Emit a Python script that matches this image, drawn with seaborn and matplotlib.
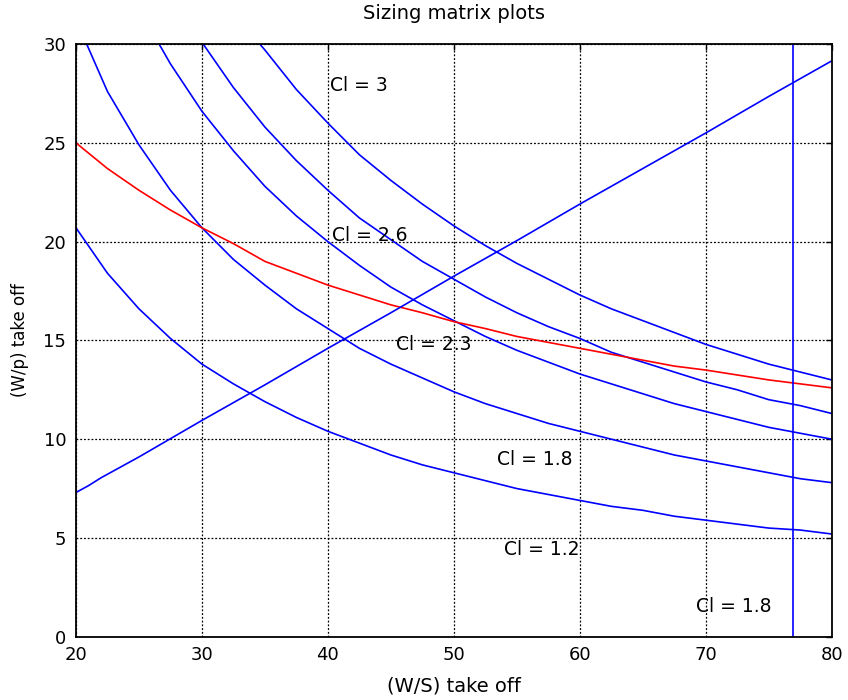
import numpy as np
import pandas as pd
import matplotlib
matplotlib.use("Agg")
import matplotlib.pyplot as plt
import seaborn as sns

sns.set_style("white")
plt.rcParams['font.family'] = ['DejaVu Sans']
plt.rcParams['text.color'] = 'black'

# curves: (W/S) vs (W/p)
x_a = [20, 22.5, 25, 27.5, 30, 32.5, 35, 37.5, 40, 42.5, 45, 47.5, 50, 52.5, 55, 57.5, 60, 62.5, 65, 67.5, 70, 72.5, 75, 77.5, 80]
y_a = [20.7, 18.4, 16.6, 15.1, 13.8, 12.8, 11.9, 11.1, 10.4, 9.8, 9.2, 8.7, 8.3, 7.9, 7.5, 7.2, 6.9, 6.6, 6.4, 6.1, 5.9, 5.7, 5.5, 5.4, 5.2]

x_b = [20.85, 22.5, 25, 27.5, 30, 32.5, 35, 37.5, 40, 42.5, 45, 47.5, 50, 52.5, 55, 57.5, 60, 62.5, 65, 67.5, 70, 72.5, 75, 77.5, 80]
y_b = [30.0, 27.6, 24.9, 22.6, 20.7, 19.1, 17.8, 16.6, 15.6, 14.6, 13.8, 13.1, 12.4, 11.8, 11.3, 10.8, 10.4, 10.0, 9.6, 9.2, 8.9, 8.6, 8.3, 8.0, 7.8]

x_c = [26.6, 27.5, 30, 32.5, 35, 37.5, 40, 42.5, 45, 47.5, 50, 52.5, 55, 57.5, 60, 62.5, 65, 67.5, 70, 72.5, 75, 77.5, 80]
y_c = [30.0, 29.0, 26.6, 24.6, 22.8, 21.3, 20.0, 18.8, 17.7, 16.8, 16.0, 15.2, 14.5, 13.9, 13.3, 12.8, 12.3, 11.8, 11.4, 11.0, 10.6, 10.3, 10.0]

x_d = [30.1, 32.5, 35, 37.5, 40, 42.5, 45, 47.5, 50, 52.5, 55, 57.5, 60, 62.5, 65, 67.5, 70, 72.5, 75, 77.5, 80]
y_d = [30.0, 27.8, 25.8, 24.1, 22.6, 21.2, 20.1, 19.0, 18.1, 17.2, 16.4, 15.7, 15.1, 14.4, 13.9, 13.4, 12.9, 12.5, 12.0, 11.7, 11.3]

x_e = [34.6, 35, 37.5, 40, 42.5, 45, 47.5, 50, 52.5, 55, 57.5, 60, 62.5, 65, 67.5, 70, 72.5, 75, 77.5, 80]
y_e = [30.0, 29.7, 27.7, 26.0, 24.4, 23.1, 21.9, 20.8, 19.8, 18.9, 18.1, 17.3, 16.6, 16.0, 15.4, 14.8, 14.3, 13.8, 13.4, 13.0]

x_red = x_a
y_red = [25.0, 23.7, 22.6, 21.6, 20.7, 19.9, 19.0, 18.4, 17.8, 17.3, 16.8, 16.4, 15.95, 15.6, 15.2, 14.9, 14.6, 14.3, 14.0, 13.7, 13.5, 13.25, 13.0, 12.8, 12.6]

x_line = [20, 21, 22, 25, 30, 35, 40, 45, 50, 55, 60, 65, 70, 75, 80]
y_line = [7.3, 7.65, 8.05, 9.1, 10.95, 12.75, 14.6, 16.4, 18.25, 20.05, 21.9, 23.7, 25.5, 27.35, 29.15]

x_vert = [76.9, 76.9]
y_vert = [0, 30]

labels = ["Cl = 3", "Cl = 2.6", "Cl = 2.3", "Cl = 1.8", "Cl = 1.2", "Cl = 1.8"]
label_x = [40.2, 40.3, 45.4, 53.4, 54.0, 69.2]
label_y = [27.9, 20.3, 14.8, 8.95, 4.4, 1.55]

series = {
    "a": (x_a, y_a), "b": (x_b, y_b), "c": (x_c, y_c), "d": (x_d, y_d),
    "e": (x_e, y_e), "red": (x_red, y_red), "line": (x_line, y_line), "vert": (x_vert, y_vert),
}
frames = []
for name, (xs, ys) in series.items():
    frames.append(pd.DataFrame({"ws": xs, "wp": ys, "curve": name}))
df = pd.concat(frames, ignore_index=True)

palette = {k: "#0000ff" for k in series}
palette["red"] = "#ff0000"

fig = plt.figure(figsize=(8.48, 7.0), dpi=100)
ax = fig.add_axes([0.0896, 0.0904, 0.8912, 0.8466])

sns.lineplot(data=df, x="ws", y="wp", hue="curve", palette=palette, estimator=None,
             sort=False, legend=False, linewidth=1.2, ax=ax)

for t, tx, ty in zip(labels, label_x, label_y):
    ax.text(tx, ty, t, fontsize=13.5, va="center", ha="left", color="black")

ax.set_xlim(20, 80)
ax.set_ylim(0, 30)
ax.set_xticks([20, 30, 40, 50, 60, 70, 80])
ax.set_yticks([0, 5, 10, 15, 20, 25, 30])
ax.grid(True, color="black", linestyle=(0, (1.5, 1.5)), linewidth=0.9)
ax.tick_params(direction="in", length=4, width=1, top=True, right=True, labelsize=13,
               colors="black")
ax.tick_params(axis="x", pad=7)
ax.tick_params(axis="y", pad=7)
for s in ax.spines.values():
    s.set_color("black")
    s.set_linewidth(1.3)

ax.set_xlabel("(W/S) take off", fontsize=14, labelpad=9, color="black")
ax.set_ylabel("(W/p) take off", fontsize=12, labelpad=10, color="black")
ax.set_title("Sizing matrix plots", fontsize=14, pad=18, color="black")

fig.savefig("out.png", dpi=100)
